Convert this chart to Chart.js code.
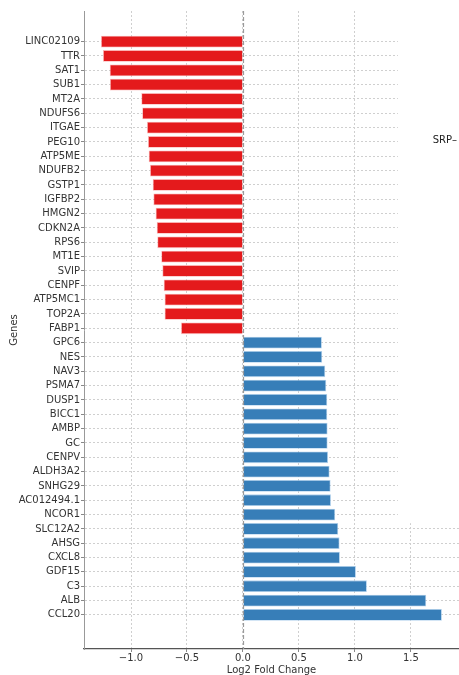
<!DOCTYPE html>
<html>
<head>
<meta charset="utf-8">
<script src="https://cdn.jsdelivr.net/npm/chart.js@4/dist/chart.umd.min.js"></script>
<style>
  html, body { margin: 0; padding: 0; background: #ffffff; }
  #wrap { width: 459px; height: 675px; position: relative; }
</style>
</head>
<body>
<div id="wrap"><canvas id="c" width="459" height="675"></canvas></div>
<script>
// ---- data ----
const genes = [
  "LINC02109","TTR","SAT1","SUB1","MT2A","NDUFS6","ITGAE","PEG10","ATP5ME","NDUFB2",
  "GSTP1","IGFBP2","HMGN2","CDKN2A","RPS6","MT1E","SVIP","CENPF","ATP5MC1","TOP2A",
  "FABP1","GPC6","NES","NAV3","PSMA7","DUSP1","BICC1","AMBP","GC","CENPV",
  "ALDH3A2","SNHG29","AC012494.1","NCOR1","SLC12A2","AHSG","CXCL8","GDF15","C3","ALB","CCL20"
];
const log2fc = [
  -1.268,-1.250,-1.190,-1.188,-0.908,-0.900,-0.857,-0.848,-0.842,-0.830,
  -0.806,-0.800,-0.780,-0.770,-0.765,-0.730,-0.720,-0.708,-0.700,-0.700,
  -0.553,0.705,0.708,0.735,0.744,0.753,0.753,0.756,0.756,0.760,
  0.774,0.783,0.786,0.824,0.851,0.863,0.866,1.009,1.107,1.637,1.777
];
const xTicks = [-1.0, -0.5, 0.0, 0.5, 1.0, 1.5];
const xTitle = "Log2 Fold Change";
const yTitle = "Genes";
const strayLabel = "SRP\u2013";

const RED = "#e41a1c", BLUE = "#377eb8";
const FONT = "'DejaVu Sans', sans-serif";

const points = genes.map((g, i) => ({ x: log2fc[i], y: i }));
const colors = log2fc.map(v => v < 0 ? RED : BLUE);
const edges = log2fc.map(v => v < 0 ? "rgba(250,170,170,0.9)" : "rgba(170,205,235,0.9)");

function zeroPad(s) { s.paddingTop = 0; s.paddingBottom = 0; s.paddingLeft = 0; s.paddingRight = 0; }

const overlay = {
  id: "overlay",
  afterDraw(chart) {
    const ctx = chart.ctx;
    const xs = chart.scales.x, ys = chart.scales.y;
    const ca = chart.chartArea;
    // zero reference line
    const x0 = xs.getPixelForValue(0);
    ctx.save();
    ctx.strokeStyle = "#9a9a9a";
    ctx.lineWidth = 1.2;
    ctx.setLineDash([4, 2]);
    ctx.beginPath();
    ctx.moveTo(Math.round(x0) + 0.5, ca.top);
    ctx.lineTo(Math.round(x0) + 0.5, ca.bottom);
    ctx.stroke();
    ctx.restore();
    // white box that hides the top-right part of the grid (as in the reference)
    const bx = xs.getPixelForValue(1.384);
    const by = ys.getPixelForValue(33.6);
    ctx.save();
    ctx.fillStyle = "#ffffff";
    ctx.fillRect(bx, 0, chart.width - bx, by);
    ctx.fillStyle = "#222";
    ctx.font = "10px " + FONT;
    ctx.textAlign = "left";
    ctx.textBaseline = "middle";
    ctx.fillText(strayLabel, xs.getPixelForValue(1.695), ys.getPixelForValue(6.9));
    ctx.restore();
  }
};

new Chart(document.getElementById("c"), {
  type: "bar",
  data: {
    datasets: [{
      data: points,
      backgroundColor: colors,
      borderColor: edges,
      borderWidth: 0.8,
      categoryPercentage: 1.0,
      barPercentage: 0.82
    }]
  },
  options: {
    indexAxis: "y",
    responsive: false,
    animation: false,
    devicePixelRatio: 1,
    layout: { padding: { top: 11, right: 0, bottom: 0, left: 0 } },
    plugins: { legend: { display: false }, tooltip: { enabled: false } },
    scales: {
      x: {
        type: "linear",
        min: -1.42,
        max: 1.93,
        afterBuildTicks(s) { s.ticks = xTicks.map(v => ({ value: v })); },
        afterFit(s) { s.height = 26; zeroPad(s); },
        grid: {
          color: "#cfcfcf",
          lineWidth: 1,
          tickLength: 3,
          tickColor: "#888",
          z: 0
        },
        border: { display: true, color: "#555", width: 1.2, z: 2, dash: [2, 2] },
        ticks: {
          color: "#333",
          font: { family: FONT, size: 10 },
          padding: 0,
          maxRotation: 0,
          callback: v => Number(v).toFixed(1).replace("-", "\u2212")
        },
        title: {
          display: true,
          text: xTitle,
          color: "#333",
          font: { family: FONT, size: 10 },
          padding: { top: 0, bottom: -1 }
        }
      },
      y: {
        type: "linear",
        reverse: true,
        offset: false,
        min: -2.14,
        max: 42.38,
        afterBuildTicks(s) { s.ticks = genes.map((g, i) => ({ value: i })); },
        afterFit(s) { s.width = 84; zeroPad(s); },
        grid: {
          color: "#cfcfcf",
          lineWidth: 1,
          tickLength: 3,
          tickColor: "#888",
          offset: false,
          z: 0
        },
        border: { display: true, color: "#999", width: 1, z: 2, dash: [2, 2] },
        ticks: {
          autoSkip: false,
          color: "#333",
          font: { family: FONT, size: 10 },
          padding: 1,
          callback: v => genes[v] !== undefined ? genes[v] : ""
        },
        title: {
          display: true,
          text: yTitle,
          color: "#333",
          font: { family: FONT, size: 10 },
          padding: { top: 8, bottom: 0 }
        }
      }
    }
  },
  plugins: [overlay]
});
</script>
</body>
</html>
